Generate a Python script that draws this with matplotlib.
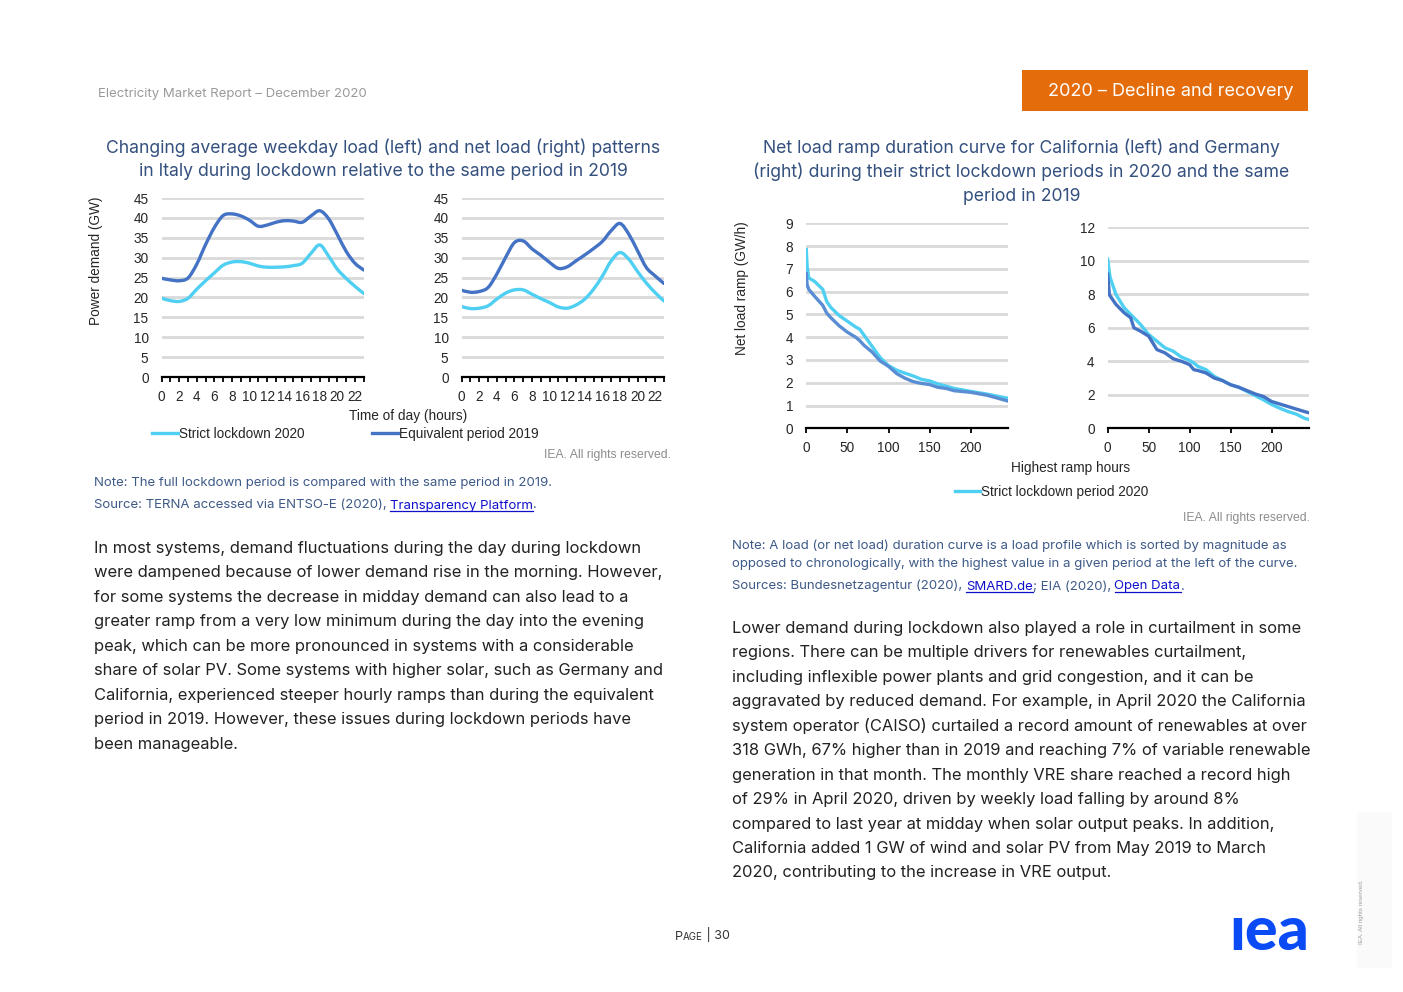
import matplotlib
matplotlib.use('Agg')
import matplotlib.pyplot as plt
from matplotlib.lines import Line2D
from matplotlib.patches import Rectangle, PathPatch
from matplotlib.path import Path

W, H = 1403, 992

# ---------------- data ----------------
hours = list(range(24))
hour_labels = ['0', '', '2', '', '4', '', '6', '', '8', '', '10', '', '12', '', '14', '', '16', '', '18', '', '20', '', '22', '']
load_2020 = [19.8, 19.2, 19.0, 19.8, 22.1, 24.2, 26.2, 28.1, 28.9, 29.0, 28.6, 27.9, 27.6, 27.6, 27.7, 28.0, 28.6, 31.1, 33.2, 30.4, 27.1, 24.8, 22.8, 21.0]
load_2019 = [24.8, 24.4, 24.2, 24.9, 28.4, 33.3, 37.6, 40.6, 41.0, 40.5, 39.4, 37.9, 38.2, 38.9, 39.3, 39.2, 38.9, 40.5, 41.8, 39.8, 35.8, 31.6, 28.6, 26.9]
net_2020 = [17.7, 17.2, 17.3, 17.9, 19.6, 21.1, 21.9, 21.9, 20.8, 19.7, 18.7, 17.6, 17.3, 18.1, 19.6, 22.1, 25.4, 29.2, 31.3, 29.6, 26.5, 23.6, 21.2, 19.1]
net_2019 = [21.8, 21.3, 21.5, 22.5, 25.9, 30.1, 33.8, 34.2, 32.2, 30.6, 28.8, 27.3, 27.7, 29.2, 30.7, 32.3, 34.1, 36.8, 38.6, 35.9, 31.7, 27.5, 25.4, 23.5]

ca_hours = [0, 1, 3, 10, 20, 25, 30, 40, 50, 60, 65, 70, 80, 90, 100, 110, 120, 130, 140, 150, 160, 170, 180, 200, 220, 245]
ca_2020 = [7.85, 7.1, 6.6, 6.45, 6.1, 5.55, 5.3, 4.95, 4.7, 4.45, 4.35, 4.1, 3.6, 3.1, 2.75, 2.55, 2.42, 2.3, 2.15, 2.08, 1.95, 1.85, 1.75, 1.62, 1.5, 1.32]
ca_2019 = [6.8, 6.3, 6.1, 5.8, 5.4, 5.05, 4.85, 4.5, 4.22, 4.0, 3.85, 3.65, 3.35, 2.95, 2.72, 2.4, 2.2, 2.05, 1.97, 1.92, 1.8, 1.75, 1.65, 1.58, 1.45, 1.2]

de_hours = [0, 2, 3, 10, 20, 28, 32, 40, 50, 55, 60, 70, 80, 90, 100, 105, 110, 120, 130, 140, 150, 160, 170, 180, 190, 200, 210, 220, 230, 240, 246]
de_2020 = [10.1, 9.3, 9.0, 8.0, 7.2, 6.8, 6.6, 6.2, 5.6, 5.4, 5.2, 4.8, 4.6, 4.25, 4.05, 3.9, 3.7, 3.5, 3.1, 2.85, 2.6, 2.45, 2.2, 1.95, 1.7, 1.42, 1.2, 1.0, 0.85, 0.6, 0.52]
de_2019 = [9.2, 8.0, 7.9, 7.4, 6.9, 6.6, 6.0, 5.8, 5.5, 5.1, 4.7, 4.5, 4.15, 4.0, 3.8, 3.5, 3.45, 3.3, 3.0, 2.85, 2.6, 2.45, 2.25, 2.05, 1.9, 1.6, 1.45, 1.3, 1.15, 1.0, 0.92]

load_ticks = [0, 5, 10, 15, 20, 25, 30, 35, 40, 45]
ca_ticks = [0, 1, 2, 3, 4, 5, 6, 7, 8, 9]
de_ticks = [0, 2, 4, 6, 8, 10, 12]
ramp_xticks = [0, 50, 100, 150, 200]

# ---------------- styles ----------------
LIGHT = '#4FCFF2'
DARK = '#4472C4'
CA_DARK = '#5A8ED4'
GRID = '#D9D9D9'
TITLE_C = '#34507E'
NOTE_C = '#3E5A87'
LINK_C = '#1010CC'
BODY_C = '#222222'
TICK_C = '#262626'
CHART_FONT = ['Liberation Sans', 'DejaVu Sans']
BODY_FONT = ['Inter', 'DejaVu Sans']
CFS = 9.8

fig = plt.figure(figsize=(W / 100, H / 100), dpi=100)
fig.patch.set_facecolor('white')


def fx(x):
    return x / W


def fy(y):
    return 1 - y / H


def axes_px(x0, ytop, x1, ybot):
    return fig.add_axes([fx(x0), fy(ybot), (x1 - x0) / W, (ybot - ytop) / H])


def smooth_line(ax, x, y, color):
    # Excel-style smoothed line: cubic Bezier segments through the data points
    n = len(x)
    verts = [(x[0], y[0])]
    codes = [Path.MOVETO]
    for i in range(n - 1):
        im1 = max(i - 1, 0)
        ip2 = min(i + 2, n - 1)
        c1 = (x[i] + (x[i + 1] - x[im1]) / 6.0, y[i] + (y[i + 1] - y[im1]) / 6.0)
        c2 = (x[i + 1] - (x[ip2] - x[i]) / 6.0, y[i + 1] - (y[ip2] - y[i]) / 6.0)
        verts += [c1, c2, (x[i + 1], y[i + 1])]
        codes += [Path.CURVE4] * 3
    ax.add_patch(PathPatch(Path(verts, codes), fill=False, edgecolor=color, lw=2.4,
                           capstyle='round', joinstyle='round', zorder=3))


def style_axes(ax, yticks, ypad):
    ax.set_facecolor('none')
    for s in ['left', 'right', 'top']:
        ax.spines[s].set_visible(False)
    ax.spines['bottom'].set_color('black')
    ax.spines['bottom'].set_linewidth(1.6)
    ax.spines['bottom'].set_zorder(5)
    ax.set_yticks(yticks)
    ax.set_ylim(yticks[0], yticks[-1])
    ax.yaxis.grid(True, color=GRID, linewidth=2.0)
    ax.set_axisbelow(True)
    ax.tick_params(axis='y', length=0, pad=ypad, labelsize=CFS, labelcolor=TICK_C)
    ax.tick_params(axis='x', direction='out', length=3.5, width=1.3, color='black',
                   pad=5.5, labelsize=CFS, labelcolor=TICK_C)
    for lab in ax.get_xticklabels() + ax.get_yticklabels():
        lab.set_family(CHART_FONT)


# ---------- Italy load (left) ----------
ax1 = axes_px(161.7, 198, 363.7, 377)
smooth_line(ax1, hours, load_2020, LIGHT)
smooth_line(ax1, hours, load_2019, DARK)
ax1.set_xlim(0, 23)
ax1.set_xticks(hours)
ax1.set_xticklabels(hour_labels)
style_axes(ax1, load_ticks, 9.5)

ax2 = axes_px(461.7, 198, 664, 377)
smooth_line(ax2, hours, net_2020, LIGHT)
smooth_line(ax2, hours, net_2019, DARK)
ax2.set_xlim(0, 23)
ax2.set_xticks(hours)
ax2.set_xticklabels(hour_labels)
style_axes(ax2, load_ticks, 9.5)

fig.text(fx(96), fy(261), 'Power demand (GW)', rotation=90, ha='center', va='center',
         fontsize=CFS, color=TICK_C, family=CHART_FONT)
fig.text(fx(408), fy(416), 'Time of day (hours)', ha='center', va='center',
         fontsize=CFS, color=TICK_C, family=CHART_FONT)

h1 = Line2D([], [], color=LIGHT, lw=2.4)
h2 = Line2D([], [], color=DARK, lw=2.4)
leg = fig.legend([h1, h2], ['Strict lockdown 2020', 'Equivalent period 2019'], ncol=2,
                 loc='center left', bbox_to_anchor=(fx(152), fy(434)), frameon=False,
                 borderpad=0, borderaxespad=0, handlelength=1.9, handletextpad=0.12,
                 columnspacing=4.9, prop={'family': CHART_FONT, 'size': CFS})
for t in leg.get_texts():
    t.set_color(TICK_C)

# ---------- Ramp duration curves (right) ----------
ax3 = axes_px(806.3, 223.3, 1007.7, 428.3)
ax3.plot(ca_hours, ca_2020, color=LIGHT, lw=2.4, zorder=3)
ax3.plot(ca_hours, ca_2019, color=CA_DARK, lw=2.4, zorder=3)
ax3.set_xlim(0, 245)
ax3.set_xticks(ramp_xticks)
style_axes(ax3, ca_ticks, 9.5)

ax4 = axes_px(1107.7, 227.3, 1309.3, 428.3)
ax4.plot(de_hours, de_2020, color=LIGHT, lw=2.4, zorder=3)
ax4.plot(de_hours, de_2019, color=DARK, lw=2.4, zorder=3)
ax4.set_xlim(0, 246)
ax4.set_xticks(ramp_xticks)
style_axes(ax4, de_ticks, 9.5)

fig.text(fx(742), fy(288), 'Net load ramp (GW/h)', rotation=90, ha='center', va='center',
         fontsize=CFS, color=TICK_C, family=CHART_FONT)
fig.text(fx(1071), fy(468), 'Highest ramp hours', ha='center', va='center',
         fontsize=CFS, color=TICK_C, family=CHART_FONT)
leg2 = fig.legend([Line2D([], [], color=LIGHT, lw=2.4)], ['Strict lockdown period 2020'],
                  loc='center left', bbox_to_anchor=(fx(955), fy(492)), frameon=False,
                  borderpad=0, borderaxespad=0, handlelength=1.85, handletextpad=0.08,
                  prop={'family': CHART_FONT, 'size': CFS})
for t in leg2.get_texts():
    t.set_color(TICK_C)

# ---------------- page text ----------------
renderer = fig.canvas.get_renderer()


def segs(x, y, parts, family):
    cur = x
    for s, color, ul, size in parts:
        t = fig.text(fx(cur), fy(y), s, color=color, ha='left', va='baseline',
                     fontsize=size, family=family)
        bb = t.get_window_extent(renderer)
        if ul:
            uy = fy(y) * H - 2.0
            fig.add_artist(Line2D([bb.x0 / W, bb.x1 / W], [uy / H, uy / H],
                                  color=color, lw=0.9, transform=fig.transFigure))
        cur = bb.x1


NFS = 9.5
# header
fig.text(fx(98), fy(94), 'Electricity Market Report \u2013 December 2020', ha='left', va='center',
         fontsize=9.5, color='#9A9A9A', family=BODY_FONT)
fig.add_artist(Rectangle((fx(1022), fy(111)), (1308 - 1022) / W, (111 - 70) / H,
                         transform=fig.transFigure, color='#E46C0A', lw=0))
fig.text(fx(1171), fy(91.5), '2020 \u2013 Decline and recovery', ha='center', va='center',
         fontsize=13.0, color='white', family=BODY_FONT)

# chart titles
TFS = 12.7
left_title = ['Changing average weekday load (left) and net load (right) patterns',
              'in Italy during lockdown relative to the same period in 2019']
for i, line in enumerate(left_title):
    fig.text(fx(383.5), fy(147.5 + 24.5 * i), line, ha='center', va='center',
             fontsize=TFS, color=TITLE_C, family=BODY_FONT)
right_title = ['Net load ramp duration curve for California (left) and Germany',
               '(right) during their strict lockdown periods in 2020 and the same',
               'period in 2019']
for i, line in enumerate(right_title):
    fig.text(fx(1021.5), fy(147.5 + 24.5 * i), line, ha='center', va='center',
             fontsize=TFS, color=TITLE_C, family=BODY_FONT)

# rights reserved
fig.text(fx(671), fy(455), 'IEA. All rights reserved.', ha='right', va='center',
         fontsize=8.7, color='#8C8C8C', family=CHART_FONT)
fig.text(fx(1310), fy(518), 'IEA. All rights reserved.', ha='right', va='center',
         fontsize=8.7, color='#8C8C8C', family=CHART_FONT)

# notes / sources (baseline positions)
segs(94, 485.5, [('Note: The full lockdown period is compared with the same period in 2019.', NOTE_C, False, NFS)],
     BODY_FONT)
segs(94, 508.5, [('Source: TERNA accessed via ENTSO-E (2020), ', NOTE_C, False, NFS),
                 ('Transparency Platform', LINK_C, True, NFS), ('.', NOTE_C, False, NFS)], BODY_FONT)
segs(732, 548.5, [('Note: A load (or net load) duration curve is a load profile which is sorted by magnitude as', NOTE_C, False, NFS)],
     BODY_FONT)
segs(732, 566.5, [('opposed to chronologically, with the highest value in a given period at the left of the curve.', NOTE_C, False, NFS)],
     BODY_FONT)
segs(732, 589.5, [('Sources: Bundesnetzagentur (2020), ', NOTE_C, False, NFS), ('SMARD.de', LINK_C, True, NFS),
                  ('; EIA (2020), ', NOTE_C, False, NFS), ('Open Data', LINK_C, True, NFS), ('.', NOTE_C, False, NFS)],
     BODY_FONT)

# body paragraphs
BFS = 11.9
left_body = [
    'In most systems, demand fluctuations during the day during lockdown',
    'were dampened because of lower demand rise in the morning. However,',
    'for some systems the decrease in midday demand can also lead to a',
    'greater ramp from a very low minimum during the day into the evening',
    'peak, which can be more pronounced in systems with a considerable',
    'share of solar PV. Some systems with higher solar, such as Germany and',
    'California, experienced steeper hourly ramps than during the equivalent',
    'period in 2019. However, these issues during lockdown periods have',
    'been manageable.',
]
for i, line in enumerate(left_body):
    fig.text(fx(94), fy(548.5 + 24.45 * i), line, ha='left', va='center',
             fontsize=BFS, color=BODY_C, family=BODY_FONT)

right_body = [
    'Lower demand during lockdown also played a role in curtailment in some',
    'regions. There can be multiple drivers for renewables curtailment,',
    'including inflexible power plants and grid congestion, and it can be',
    'aggravated by reduced demand. For example, in April 2020 the California',
    'system operator (CAISO) curtailed a record amount of renewables at over',
    '318 GWh, 67% higher than in 2019 and reaching 7% of variable renewable',
    'generation in that month. The monthly VRE share reached a record high',
    'of 29% in April 2020, driven by weekly load falling by around 8%',
    'compared to last year at midday when solar output peaks. In addition,',
    'California added 1 GW of wind and solar PV from May 2019 to March',
    '2020, contributing to the increase in VRE output.',
]
for i, line in enumerate(right_body):
    fig.text(fx(732), fy(628.5 + 24.45 * i), line, ha='left', va='center',
             fontsize=BFS, color=BODY_C, family=BODY_FONT)

# footer
segs(675, 939.5, [('P', '#333333', False, 9.0), ('AGE', '#333333', False, 7.0), (' | 30', '#333333', False, 9.0)],
     BODY_FONT)
fig.text(fx(1269), fy(931.5), '\u0131ea', ha='center', va='center', fontsize=44,
         fontweight='black', color='#0A4BF5', family=['Lato', 'DejaVu Sans'])
fig.add_artist(Rectangle((fx(1357), fy(968)), 35 / W, 156 / H, transform=fig.transFigure,
                         color='#FAFAFA', lw=0, zorder=0))
fig.text(fx(1362), fy(912), 'IEA. All rights reserved.', rotation=90, ha='center', va='center',
         fontsize=4.5, color='#A0A0A0', family=CHART_FONT)

fig.savefig('out.png', dpi=100, facecolor='white')
